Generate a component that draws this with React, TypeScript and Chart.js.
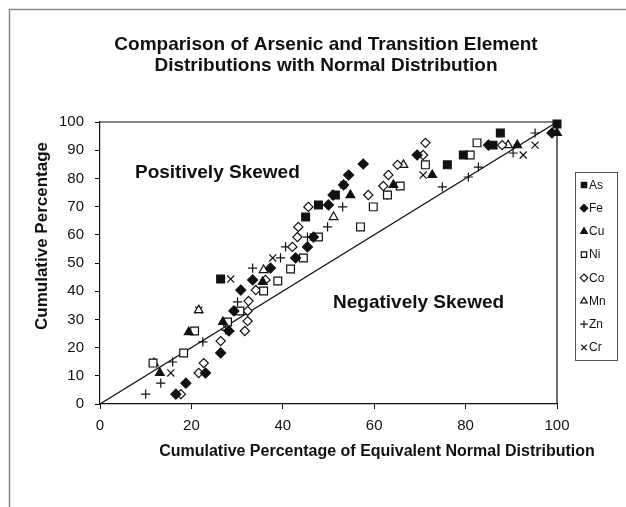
import React, { useEffect, useRef } from 'react';
import { Chart, registerables } from 'chart.js';

Chart.register(...registerables);

const titleLines = ['Comparison of Arsenic and Transition Element', 'Distributions with Normal Distribution'];
const xAxisTitle = 'Cumulative Percentage of Equivalent Normal Distribution';
const yAxisTitle = 'Cumulative Percentage';
const upperNote = 'Positively Skewed';
const lowerNote = 'Negatively Skewed';
const xTickValues = [0, 20, 40, 60, 80, 100];
const yTickValues = [0, 10, 20, 30, 40, 50, 60, 70, 80, 90, 100];
const referenceLine = [[0, 0], [100, 100]];

const elementNames = ['As', 'Fe', 'Cu', 'Ni', 'Co', 'Mn', 'Zn', 'Cr'];

const asPoints = [[26.4, 44.3], [45.0, 66.3], [47.8, 70.6], [51.5, 74.1], [76.0, 84.8], [79.5, 88.3], [86.0, 91.8], [87.6, 96.1], [100, 99.3]];
const fePoints = [[16.6, 3.5], [18.8, 7.4], [23.1, 11.0], [26.4, 18.1], [28.2, 25.9], [29.3, 33.0], [30.8, 40.4], [33.4, 44.0], [37.3, 48.2], [42.8, 51.8], [45.4, 55.7], [46.7, 59.2], [50.0, 70.6], [51.0, 74.1], [53.3, 77.7], [54.4, 81.2], [57.6, 85.1], [69.4, 88.3], [85.0, 91.8], [98.9, 96.1]];
const cuPoints = [[13.1, 11.0], [19.4, 25.5], [26.9, 29.1], [35.6, 43.3], [54.8, 74.1], [64.2, 77.7], [72.7, 81.2], [91.3, 91.8], [100, 96.1]];
const niPoints = [[11.6, 14.5], [18.3, 18.1], [20.7, 25.9], [27.9, 29.1], [30.6, 33.0], [35.8, 40.1], [38.9, 43.6], [41.7, 47.9], [44.5, 51.8], [47.8, 59.2], [57.0, 62.8], [59.8, 69.9], [62.9, 74.1], [65.7, 77.3], [71.2, 84.8], [81.0, 88.3], [82.5, 92.6]];
const coPoints = [[17.7, 3.5], [21.6, 11.0], [22.7, 14.5], [26.4, 22.3], [31.7, 25.9], [32.3, 29.4], [32.3, 33.0], [32.5, 36.5], [34.1, 40.4], [36.2, 44.0], [42.1, 55.7], [43.2, 59.2], [43.4, 62.8], [45.6, 69.9], [58.7, 74.1], [62.0, 77.3], [63.1, 81.2], [65.1, 84.8], [70.7, 88.3], [71.2, 92.6], [88.0, 91.8]];
const mnPoints = [[11.8, 14.5], [21.6, 33.3], [35.8, 47.5], [51.1, 66.3], [66.4, 84.8], [89.3, 91.8]];
const znPoints = [[10.0, 3.5], [13.3, 7.4], [15.9, 14.9], [22.5, 22.0], [27.5, 26.2], [30.1, 36.2], [33.4, 48.2], [39.5, 51.8], [40.6, 55.7], [45.4, 59.2], [49.8, 62.8], [53.1, 69.9], [62.9, 74.1], [74.9, 77.0], [80.6, 80.5], [82.8, 84.0], [90.4, 89.0], [95.2, 96.1]];
const crPoints = [[15.5, 11.0], [21.6, 33.3], [28.6, 44.3], [37.8, 51.8], [46.7, 59.2], [53.3, 77.7], [70.7, 81.2], [92.6, 88.3], [95.2, 91.8]];

const seriesPoints = [asPoints, fePoints, cuPoints, niPoints, coPoints, mnPoints, znPoints, crPoints];
const seriesStyles = ['rect', 'rectRot', 'triangle', 'rect', 'rectRot', 'triangle', 'cross', 'crossRot'];
const seriesFilled = [true, true, true, false, false, false, false, false];
const seriesRadius = [5.5, 5, 5, 5.5, 4.6, 5, 4.6, 5];

const FONT = "'Liberation Sans', Arial, Helvetica, sans-serif";

function drawMarker(ctx: CanvasRenderingContext2D, style: string, x: number, y: number, r: number, filled: boolean) {
  ctx.save();
  ctx.beginPath();
  ctx.lineWidth = 1.2;
  ctx.strokeStyle = '#111';
  ctx.fillStyle = filled ? '#111' : '#fff';
  if (style === 'rect') {
    const s = r * Math.SQRT1_2;
    ctx.rect(x - s, y - s, 2 * s, 2 * s);
    ctx.fill();
    ctx.stroke();
  } else if (style === 'rectRot') {
    ctx.moveTo(x, y - r);
    ctx.lineTo(x + r, y);
    ctx.lineTo(x, y + r);
    ctx.lineTo(x - r, y);
    ctx.closePath();
    ctx.fill();
    ctx.stroke();
  } else if (style === 'triangle') {
    for (let i = 0; i < 3; i++) {
      const a = -Math.PI / 2 + (i * 2 * Math.PI) / 3;
      const px = x + Math.cos(a) * r;
      const py = y + Math.sin(a) * r;
      if (i === 0) ctx.moveTo(px, py);
      else ctx.lineTo(px, py);
    }
    ctx.closePath();
    ctx.fill();
    ctx.stroke();
  } else if (style === 'cross') {
    ctx.moveTo(x - r, y);
    ctx.lineTo(x + r, y);
    ctx.moveTo(x, y - r);
    ctx.lineTo(x, y + r);
    ctx.stroke();
  } else {
    const d = r * Math.SQRT1_2;
    ctx.moveTo(x - d, y - d);
    ctx.lineTo(x + d, y + d);
    ctx.moveTo(x + d, y - d);
    ctx.lineTo(x - d, y + d);
    ctx.stroke();
  }
  ctx.restore();
}

const decorPlugin = {
  id: 'decor',
  beforeDraw(chart: any) {
    const ctx = chart.ctx as CanvasRenderingContext2D;
    ctx.save();
    ctx.fillStyle = '#ffffff';
    ctx.fillRect(0, 0, chart.width, chart.height);
    ctx.strokeStyle = '#8a8a8a';
    ctx.lineWidth = 1.5;
    ctx.beginPath();
    ctx.moveTo(9.5, chart.height + 5);
    ctx.lineTo(9.5, 9.5);
    ctx.lineTo(chart.width + 5, 9.5);
    ctx.stroke();
    ctx.restore();
  },
  afterDraw(chart: any) {
    const ctx = chart.ctx as CanvasRenderingContext2D;
    const area = chart.chartArea;
    ctx.save();
    // plot frame (top/right)
    ctx.strokeStyle = '#111';
    ctx.lineWidth = 1.2;
    ctx.beginPath();
    ctx.moveTo(area.left, area.top);
    ctx.lineTo(area.right, area.top);
    ctx.lineTo(area.right, area.bottom);
    ctx.stroke();

    // title
    ctx.fillStyle = '#111';
    ctx.font = `bold 19px ${FONT}`;
    ctx.textAlign = 'center';
    ctx.textBaseline = 'middle';
    ctx.fillText(titleLines[0], 326, 45);
    ctx.fillText(titleLines[1], 326, 66);

    // notes
    ctx.textAlign = 'left';
    ctx.fillText(upperNote, 135, 173);
    ctx.fillText(lowerNote, 333, 303);

    // axis titles
    ctx.font = `bold 16px ${FONT}`;
    ctx.textAlign = 'center';
    ctx.fillText(xAxisTitle, 377, 452);
    ctx.save();
    ctx.translate(42, 236);
    ctx.rotate(-Math.PI / 2);
    ctx.font = `bold 17px ${FONT}`;
    ctx.fillText(yAxisTitle, 0, 0);
    ctx.restore();

    // legend
    const lx = 575.5, ly = 172.5, lw = 42, lh = 188;
    ctx.strokeStyle = '#555';
    ctx.lineWidth = 1;
    ctx.strokeRect(lx, ly, lw, lh);
    ctx.font = `12px ${FONT}`;
    ctx.textAlign = 'left';
    ctx.fillStyle = '#111';
    elementNames.forEach((name, i) => {
      const y = 185 + i * 23.2;
      drawMarker(ctx, seriesStyles[i], 584, y, 3.8, seriesFilled[i]);
      ctx.fillText(name, 589, y + 0.5);
    });
    ctx.restore();
  },
};

export default function App() {
  const canvasRef = useRef<HTMLCanvasElement | null>(null);

  useEffect(() => {
    if (!canvasRef.current) return;
    const datasets: any[] = elementNames.map((name, i) => ({
      label: name,
      data: seriesPoints[i].map(([x, y]) => ({ x, y })),
      pointStyle: seriesStyles[i],
      pointRadius: seriesRadius[i],
      pointBorderWidth: 1.2,
      borderColor: '#111',
      backgroundColor: seriesFilled[i] ? '#111' : '#ffffff',
      showLine: false,
      clip: false,
      order: 1,
    }));
    datasets.push({
      label: 'Normal',
      data: referenceLine.map(([x, y]) => ({ x, y })),
      showLine: true,
      pointRadius: 0,
      borderColor: '#111',
      borderWidth: 1.2,
      order: 2,
    });

    const chart = new Chart(canvasRef.current, {
      type: 'scatter',
      data: { datasets },
      options: {
        responsive: false,
        animation: false,
        layout: { padding: { left: 30, right: 69, top: 122, bottom: 45 } },
        plugins: {
          legend: { display: false },
          tooltip: { enabled: false },
          title: { display: false },
        },
        scales: {
          x: {
            type: 'linear',
            min: 0,
            max: 100,
            afterBuildTicks: (scale: any) => {
              scale.ticks = xTickValues.map((v) => ({ value: v }));
            },
            afterFit: (scale: any) => {
              scale.height = 58;
            },
            grid: { drawOnChartArea: false, drawTicks: true, tickLength: 5, color: '#111' },
            border: { display: true, color: '#111', width: 1.2 },
            ticks: { color: '#111', font: { family: FONT, size: 15 }, padding: 8, maxRotation: 0 },
            title: { display: false },
          },
          y: {
            type: 'linear',
            min: 0,
            max: 100,
            afterBuildTicks: (scale: any) => {
              scale.ticks = yTickValues.map((v) => ({ value: v }));
            },
            afterFit: (scale: any) => {
              scale.width = 70;
            },
            grid: { drawOnChartArea: false, drawTicks: true, tickLength: 5, color: '#111' },
            border: { display: true, color: '#111', width: 1.2 },
            ticks: { color: '#111', font: { family: FONT, size: 15 }, padding: 11 },
            title: { display: false },
          },
        },
      } as any,
      plugins: [decorPlugin],
    });
    return () => chart.destroy();
  }, []);

  return (
    <div style={{ position: 'absolute', left: 0, top: 0, width: 626, height: 507, overflow: 'hidden', background: '#fff' }}>
      <canvas ref={canvasRef} width={626} height={507} style={{ display: 'block', width: 626, height: 507 }} />
    </div>
  );
}
